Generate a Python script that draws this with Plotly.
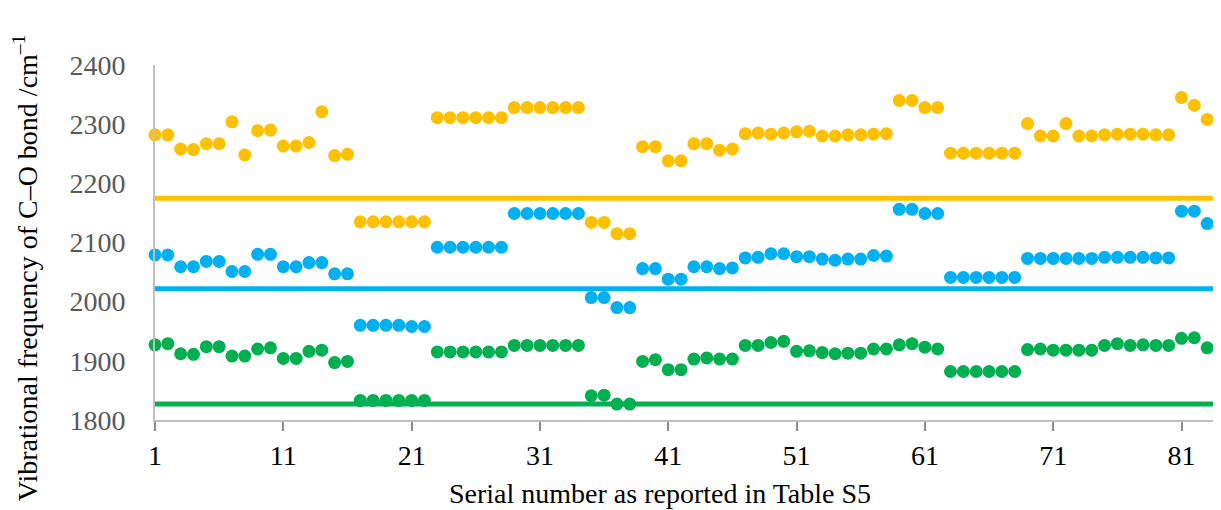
import plotly.graph_objects as go

serial = list(range(1, 85))

yellow_vals = [2282, 2282, 2258, 2257, 2267, 2267, 2304, 2248, 2289, 2290,
               2263, 2263, 2269, 2321, 2247, 2249,
               2135, 2135, 2135, 2135, 2135, 2135,
               2311, 2311, 2311, 2311, 2311, 2311,
               2328, 2328, 2328, 2328, 2328, 2328,
               2134, 2134, 2115, 2115,
               2262, 2262, 2238, 2238, 2267, 2267, 2256, 2258,
               2284, 2285, 2283, 2285, 2287, 2288, 2280, 2280, 2282, 2282, 2283, 2284,
               2340, 2340, 2328, 2328,
               2251, 2251, 2251, 2251, 2251, 2251,
               2301, 2280, 2280, 2301, 2280, 2280, 2282, 2283, 2283, 2283, 2282, 2282,
               2345, 2332, 2308, 2319]

blue_vals = [2079, 2079, 2059, 2059, 2068, 2068, 2051, 2051, 2080, 2080,
             2059, 2059, 2066, 2066, 2047, 2047,
             1960, 1960, 1960, 1960, 1958, 1958,
             2092, 2092, 2092, 2092, 2092, 2092,
             2149, 2149, 2149, 2149, 2149, 2149,
             2007, 2007, 1990, 1990,
             2056, 2056, 2038, 2038, 2059, 2059, 2056, 2057,
             2074, 2075, 2081, 2081, 2076, 2076, 2072, 2070, 2072, 2072, 2078, 2077,
             2156, 2156, 2149, 2149,
             2041, 2041, 2041, 2041, 2041, 2041,
             2073, 2073, 2073, 2073, 2073, 2073, 2075, 2075, 2075, 2075, 2074, 2074,
             2153, 2153, 2132, 2132]

green_vals = [1927, 1929, 1912, 1911, 1924, 1924, 1908, 1908, 1920, 1922,
              1904, 1904, 1916, 1918, 1897, 1899,
              1833, 1833, 1833, 1833, 1833, 1833,
              1915, 1915, 1915, 1915, 1915, 1915,
              1926, 1926, 1926, 1926, 1926, 1926,
              1841, 1842, 1827, 1827,
              1899, 1902, 1885, 1885, 1903, 1905, 1903, 1903,
              1926, 1926, 1931, 1933, 1916, 1917, 1914, 1912, 1913, 1913, 1920, 1920,
              1927, 1929, 1923, 1920,
              1882, 1882, 1882, 1882, 1882, 1882,
              1919, 1920, 1918, 1918, 1918, 1918, 1926, 1929, 1926, 1927, 1926, 1926,
              1938, 1939, 1922, 1922]

ref_x = [1, 84]
yellow_ref = [2175, 2175]
blue_ref = [2022, 2022]
green_ref = [1827, 1827]

x_ticks = [1, 11, 21, 31, 41, 51, 61, 71, 81]
y_ticks = [1800, 1900, 2000, 2100, 2200, 2300, 2400]

x_title = "Serial number as reported in Table S5"
y_title = "Vibrational frequency of C–O bond /cm<sup>–1</sup>"

YEL, BLU, GRN = "#FFC000", "#00B0F0", "#00B050"
FONT = "Liberation Serif, Times New Roman, serif"

fig = go.Figure()
for ys, c in [(yellow_ref, YEL), (blue_ref, BLU), (green_ref, GRN)]:
    fig.add_trace(go.Scatter(x=ref_x, y=ys, mode="lines",
                             line=dict(color=c, width=5), showlegend=False,
                             hoverinfo="skip"))
for ys, c in [(yellow_vals, YEL), (blue_vals, BLU), (green_vals, GRN)]:
    fig.add_trace(go.Scatter(x=serial, y=ys, mode="markers",
                             marker=dict(color=c, size=13, line=dict(width=0)),
                             showlegend=False, cliponaxis=False))

fig.update_layout(
    width=1213, height=502,
    margin=dict(l=147, r=1, t=57, b=90, autoexpand=False),
    paper_bgcolor="white", plot_bgcolor="white",
    font=dict(family=FONT, size=28, color="black"),
)
fig.update_xaxes(
    range=[1, 84], tickvals=x_ticks, ticktext=[str(v) for v in x_ticks],
    showgrid=False, zeroline=False, automargin=False,
    showline=True, linecolor="#BFBFBF", linewidth=2,
    ticks="outside", ticklen=9, tickwidth=1.5, tickcolor="#8C8C8C",
    tickfont=dict(family=FONT, size=28, color="black"),
)
fig.update_yaxes(
    range=[1800, 2400], tickvals=y_ticks,
    showgrid=False, zeroline=False, automargin=False,
    showline=True, linecolor="#BFBFBF", linewidth=2,
    ticks="", ticklabelstandoff=22,
    tickfont=dict(family=FONT, size=28, color="#595959"),
)
fig.add_annotation(text=x_title, xref="paper", yref="paper", x=0.474, y=-0.208,
                   xanchor="center", yanchor="middle", showarrow=False,
                   font=dict(family=FONT, size=28, color="black"))
fig.add_annotation(text=y_title, xref="paper", yref="paper", x=-0.122, y=0.428,
                   xanchor="center", yanchor="middle", showarrow=False, textangle=-90,
                   font=dict(family=FONT, size=28, color="black"))
fig.add_shape(type="line", xref="paper", yref="paper", x0=0.9993, x1=0.9993,
              y0=0, y1=1.01, line=dict(color="black", width=1.5))

fig.write_html("out.html")
